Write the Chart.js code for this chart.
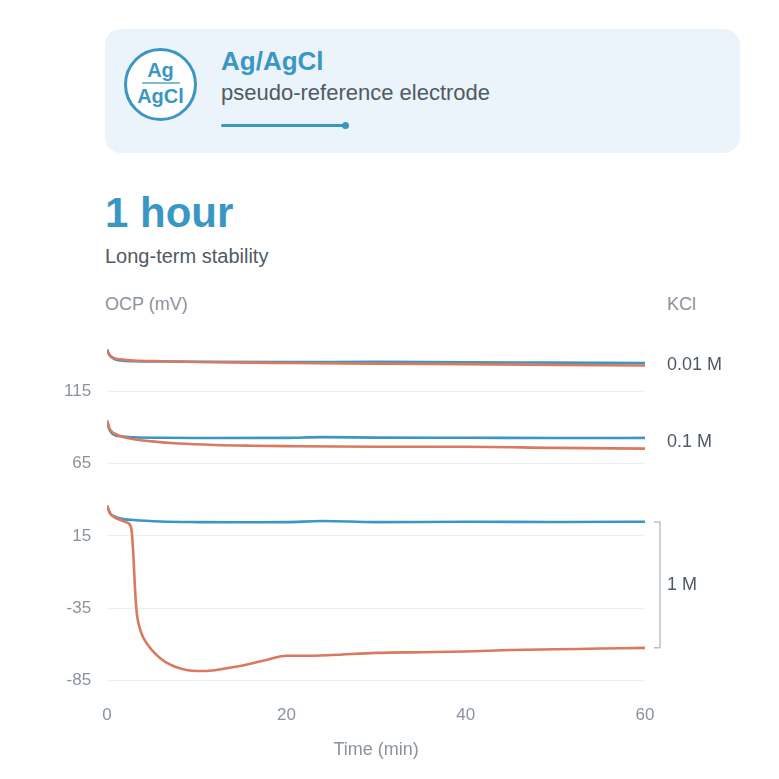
<!DOCTYPE html>
<html><head><meta charset="utf-8">
<script src="https://cdn.jsdelivr.net/npm/chart.js@4"></script>
<style>
body{margin:0;background:#fff;font-family:"Liberation Sans",Arial,sans-serif;}
#wrap{position:relative;width:779px;height:779px;}
canvas{position:absolute;left:0;top:0;}
.card{position:absolute;left:105px;top:29px;width:635px;height:124px;background:#ebf4fa;border-radius:16px;}
.circ{position:absolute;left:124px;top:48px;width:73px;height:73px;border:3px solid #3a97c4;border-radius:50%;box-sizing:border-box;background:#fff;color:#3a97c4;font-weight:bold;text-align:center;font-size:20px;}
</style></head><body>
<div id="wrap">
<div class="card"></div>
<div class="circ"><div style="margin-top:9px;line-height:21px">Ag</div><div style="width:38px;height:2px;background:#7fbbd9;margin:1px auto 2px"></div><div style="line-height:21px">AgCl</div></div>
<div style="position:absolute;left:221px;top:46px;color:#3a97c4;font-weight:bold;font-size:26px">Ag/AgCl</div>
<div style="position:absolute;left:221px;top:80px;color:#4f5a64;font-size:22px">pseudo-reference electrode</div>
<div style="position:absolute;left:221px;top:124px;width:124px;height:3px;background:#3a97c4;border-radius:2px"></div>
<div style="position:absolute;left:342px;top:122px;width:7px;height:7px;background:#3a97c4;border-radius:50%"></div>
<div style="position:absolute;left:105px;top:189px;color:#3a97c4;font-weight:bold;font-size:42px">1 hour</div>
<div style="position:absolute;left:105px;top:245px;color:#4f5a64;font-size:20px">Long-term stability</div>
<div style="position:absolute;left:105px;top:294px;color:#8a939c;font-size:18px">OCP (mV)</div>
<div style="position:absolute;left:667px;top:294px;color:#8a939c;font-size:18px">KCl</div>
<canvas id="c" width="779" height="779"></canvas>
</div>
<script>
const tOrange001=[0,0.3,0.8,1.5,3,6,10,20,30,40,50,60];
const vOrange001=[143,140,138,137.3,136.5,136,135.5,134.8,134.3,134,133.5,133];
const tBlue001=[0,0.3,0.8,1.5,3,6,10,20,30,40,50,60];
const vBlue001=[144,140,137.5,136.5,136,135.8,135.6,135.4,135.6,135.2,135,134.8];
const tOrange01=[0,0.3,0.8,1.5,3,5,8,12,16,20,30,40,50,60];
const vOrange01=[95,89,86,84,82,80.5,79,78,77.5,77.2,76.8,76.8,76,75.5];
const tBlue01=[0,0.3,0.8,1.5,3,6,10,20,24,30,40,50,60];
const vBlue01=[93.5,88,85,84,83.3,83,82.8,82.9,83.4,83.1,83,82.8,82.9];
const tOrange1=[0,0.3,0.8,1.5,2.3,2.7,2.9,3.1,3.3,3.6,4,4.5,5,6,7,8,9,10,11,12,14,16,18,20,22,25,30,35,40,45,50,55,60];
const vOrange1=[36,31,28,26,24,20,5,-20,-38,-48,-55,-60,-64,-70,-74,-76.5,-78,-78.5,-78.5,-78,-76,-73.5,-70.5,-68,-68,-67.5,-66,-65.5,-65,-64,-63.5,-63,-62.5];
const tBlue1=[0,0.3,0.8,1.5,3,6,10,15,20,24,30,40,50,60];
const vBlue1=[36,31,28.5,27,26,25,24.6,24.5,24.6,25.3,24.6,24.8,24.7,24.8];
const yTicks=[115,65,15,-35,-85];
const xTicks=[0,20,40,60];
const BLUE='#3a97c4', ORANGE='#d9795f';
const pts=(t,v)=>t.map((x,i)=>({x,y:v[i]}));
const ds=(t,v,c)=>({data:pts(t,v),borderColor:c,borderWidth:2.6,pointRadius:0,tension:0.35,cubicInterpolationMode:'monotone',fill:false});
const labels=[{y:133.5,t:'0.01 M'},{y:80,t:'0.1 M'},{y:-19,t:'1 M'}];
const deco={id:'deco',afterDraw(ch){
 const c=ch.ctx,ys=ch.scales.y;
 c.save();c.fillStyle='#4f5a64';c.font='18px "Liberation Sans",Arial';c.textBaseline='middle';
 labels.forEach(l=>c.fillText(l.t,667,ys.getPixelForValue(l.y)));
 const y1=ys.getPixelForValue(24.7),y2=ys.getPixelForValue(-62.5);
 c.strokeStyle='#b8c2ca';c.lineWidth=1.5;c.beginPath();
 c.moveTo(654,y1);c.lineTo(660,y1);c.lineTo(660,y2);c.lineTo(654,y2);c.stroke();c.restore();
}};
new Chart(document.getElementById('c'),{type:'line',
 data:{datasets:[ds(tOrange001,vOrange001,ORANGE),ds(tBlue001,vBlue001,BLUE),ds(tOrange01,vOrange01,ORANGE),ds(tBlue01,vBlue01,BLUE),ds(tOrange1,vOrange1,ORANGE),ds(tBlue1,vBlue1,BLUE)]},
 options:{responsive:false,animation:false,
  layout:{padding:{left:48,right:134,top:341,bottom:14}},
  plugins:{legend:{display:false},tooltip:{enabled:false}},
  scales:{
   x:{type:'linear',min:0,max:60,afterBuildTicks:s=>{s.ticks=xTicks.map(v=>({value:v}))},
    grid:{display:false},border:{display:false},
    ticks:{color:'#8a939c',font:{size:17,family:'Liberation Sans'},padding:8,maxRotation:0},
    title:{display:true,text:'Time (min)',color:'#8a939c',font:{size:18,family:'Liberation Sans'},padding:{top:6}}},
   y:{min:-91,max:150,afterBuildTicks:s=>{s.ticks=yTicks.map(v=>({value:v}))},
    grid:{color:'#eceff2',drawTicks:false},border:{display:false},
    ticks:{color:'#8a939c',font:{size:17,family:'Liberation Sans'},padding:16}}
  }},
 plugins:[deco]});
</script></body></html>
